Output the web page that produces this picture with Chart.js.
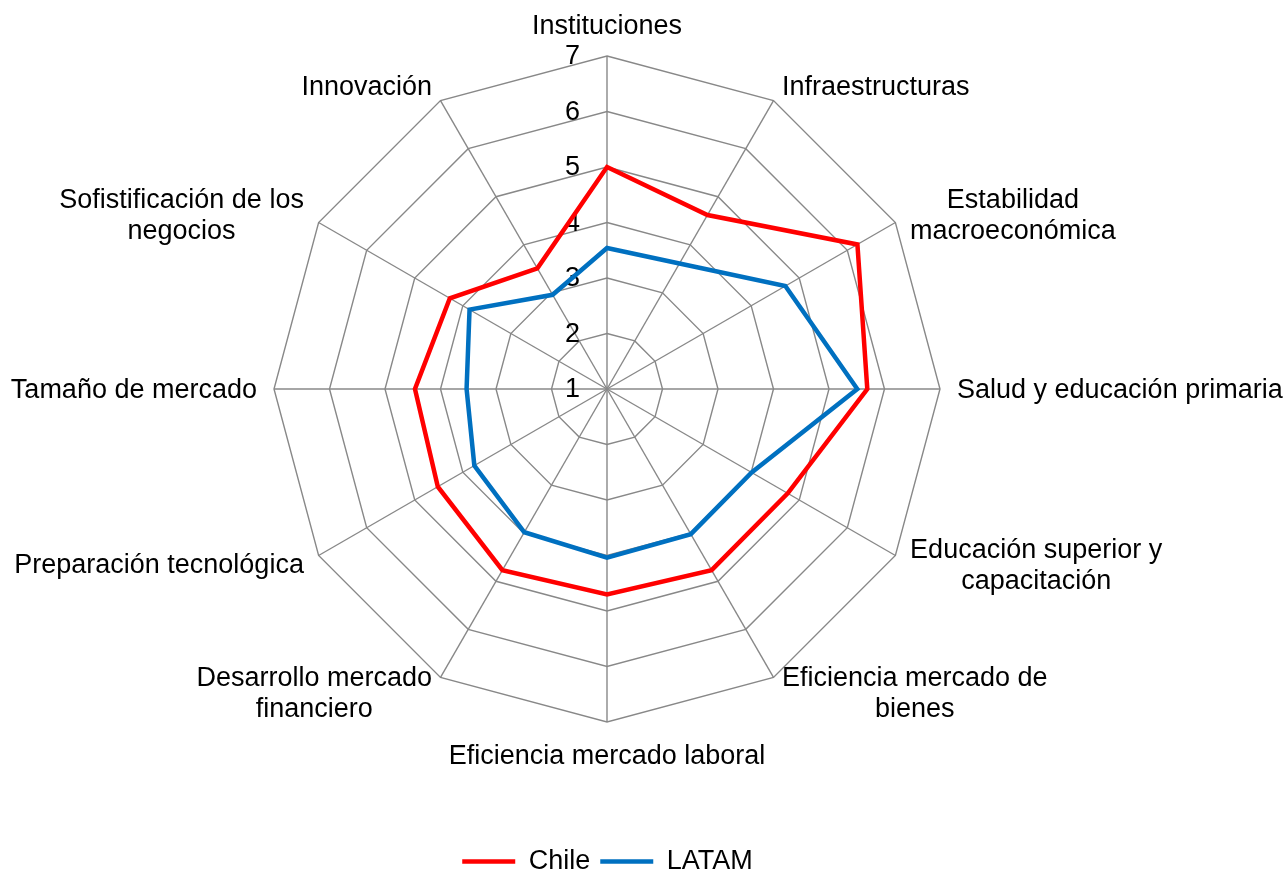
<!DOCTYPE html>
<html>
<head>
<meta charset="utf-8">
<script src="https://cdn.jsdelivr.net/npm/chart.js@4.4.1/dist/chart.umd.min.js"></script>
<style>
  html, body { margin: 0; padding: 0; background: #fff; }
  canvas { display: block; }
</style>
</head>
<body>
<canvas id="radarChart" width="1284" height="874"></canvas>
<script>
// ---- data ----
const categories = [
  'Instituciones',
  'Infraestructuras',
  ['Estabilidad', 'macroeconómica'],
  'Salud y educación primaria',
  ['Educación superior y', 'capacitación'],
  ['Eficiencia mercado de', 'bienes'],
  'Eficiencia mercado laboral',
  ['Desarrollo mercado', 'financiero'],
  'Preparación tecnológica',
  'Tamaño de mercado',
  ['Sofistificación de los', 'negocios'],
  'Innovación'
];
const chileValues = [5.00, 4.62, 6.21, 5.69, 4.76, 4.77, 4.70, 4.77, 4.52, 4.46, 4.27, 3.51];
const latamValues = [3.54, 3.61, 4.71, 5.51, 4.01, 4.02, 4.04, 3.98, 3.76, 3.53, 3.86, 2.96];
const tickValues = [1, 2, 3, 4, 5, 6, 7];

const FONT = "'Liberation Sans', Arial, sans-serif";
const FONT_SIZE = 27;
const GRID = '#888888';

// tick numbers sit just left of the vertical axis (the "1" too)
const tickNumbers = {
  id: 'tickNumbers',
  beforeDatasetsDraw(chart) {
    const scale = chart.scales.r;
    const ctx = chart.ctx;
    ctx.save();
    ctx.font = FONT_SIZE + 'px ' + FONT;
    ctx.fillStyle = '#000';
    ctx.textAlign = 'right';
    ctx.textBaseline = 'middle';
    tickValues.forEach(v => {
      const d = scale.getDistanceFromCenterForValue(v);
      ctx.fillText(String(v), scale.xCenter - 27, scale.yCenter - d + 1);
    });
    ctx.restore();
  }
};

// category names around the outside, Excel style
const outerLabels = {
  id: 'outerLabels',
  afterDraw(chart) {
    const scale = chart.scales.r;
    const ctx = chart.ctx;
    ctx.save();
    ctx.font = FONT_SIZE + 'px ' + FONT;
    ctx.fillStyle = '#000';
    ctx.textAlign = 'center';
    ctx.textBaseline = 'middle';
    categories.forEach((label, i) => {
      const lines = [].concat(label);
      const angle = Math.round(scale.getIndexAngle(i) * 180 / Math.PI) % 360;
      const vertical = angle === 0 || angle === 180;
      let pad = vertical ? 31 : 17;
      if (angle === 180) pad = 33;
      const pos = scale.getPointPosition(i, scale.drawingArea + pad);
      const blockW = Math.max(...lines.map(l => ctx.measureText(l).width));
      let cx = pos.x;
      if (!vertical) cx = angle < 180 ? pos.x + blockW / 2 : pos.x - blockW / 2;
      const lineH = 31;
      const top = pos.y + 2 - (lines.length - 1) * lineH / 2;
      lines.forEach((l, k) => ctx.fillText(l, cx, top + k * lineH));
    });
    ctx.restore();
  }
};

new Chart(document.getElementById('radarChart'), {
  type: 'radar',
  data: {
    labels: categories,
    datasets: [{
      label: 'Chile',
      data: chileValues,
      borderColor: '#ff0000',
      backgroundColor: '#ff0000',
      borderWidth: 4.5,
      borderCapStyle: 'round',
      fill: false,
      pointRadius: 0
    }, {
      label: 'LATAM',
      data: latamValues,
      borderColor: '#0070c0',
      backgroundColor: '#0070c0',
      borderWidth: 4.5,
      borderCapStyle: 'round',
      fill: false,
      pointRadius: 0
    }]
  },
  options: {
    responsive: false,
    animation: false,
    layout: { padding: { left: 274, right: 343, top: 0, bottom: -11 } },
    plugins: {
      legend: {
        position: 'bottom',
        // empty legend title only adds room between the web and the legend
        title: { display: true, text: '', font: { size: 20 }, padding: { top: 17, bottom: 18 } },
        labels: {
          font: { family: FONT, size: FONT_SIZE },
          color: '#000',
          usePointStyle: true,
          pointStyle: 'line',
          pointStyleWidth: 53,
          padding: 10
        }
      },
      tooltip: { enabled: false }
    },
    scales: {
      r: {
        min: 1,
        max: 7,
        ticks: { stepSize: 1, display: false },
        grid: { color: GRID, lineWidth: 1.4, circular: false },
        angleLines: { color: GRID, lineWidth: 1.4 },
        pointLabels: { display: false }
      }
    },
    elements: { line: { tension: 0 } }
  },
  plugins: [tickNumbers, outerLabels]
});
</script>
</body>
</html>
